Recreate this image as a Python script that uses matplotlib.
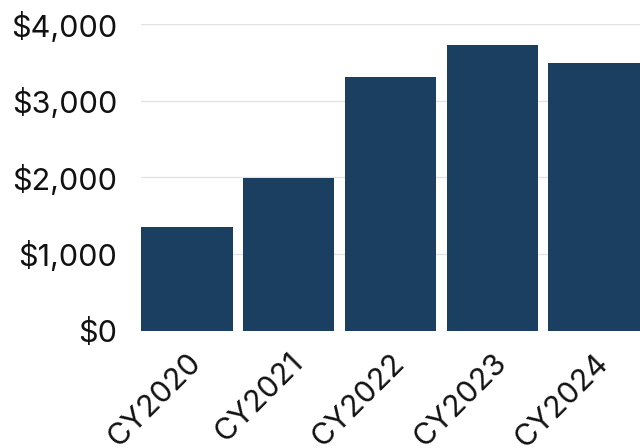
import matplotlib
matplotlib.use("Agg")
import matplotlib.pyplot as plt
from matplotlib.ticker import FuncFormatter

plt.rcParams['font.family'] = ['Inter', 'DejaVu Sans']

years = ['CY2020', 'CY2021', 'CY2022', 'CY2023', 'CY2024']
amounts = [1350, 1990, 3305, 3730, 3490]
bar_color = '#1b3f60'

fig = plt.figure(figsize=(6.4, 4.48), dpi=100)
ax = fig.add_axes([141/640, 1 - 330.5/448, 499/640, (330.5 - 24)/448])

ax.bar(range(len(years)), amounts, width=0.9, color=bar_color, zorder=2)
ax.set_xlim(-0.45, len(years) - 0.55)
ax.set_ylim(0, 4000)
ax.set_yticks([0, 1000, 2000, 3000, 4000])
ax.yaxis.set_major_formatter(FuncFormatter(lambda v, p: '${:,.0f}'.format(v)))
ax.grid(axis='y', color='#e3e3e3', linewidth=1, zorder=0)
ax.set_axisbelow(True)

ax.set_xticks(range(len(years)))
ax.set_xticklabels(years, rotation=45, ha='right', rotation_mode='anchor')
ax.tick_params(axis='both', length=0, labelsize=22, colors='#111111')
ax.tick_params(axis='y', pad=17)
ax.tick_params(axis='x', pad=13)
for s in ax.spines.values():
    s.set_visible(False)

fig.savefig('out.png', dpi=100)
